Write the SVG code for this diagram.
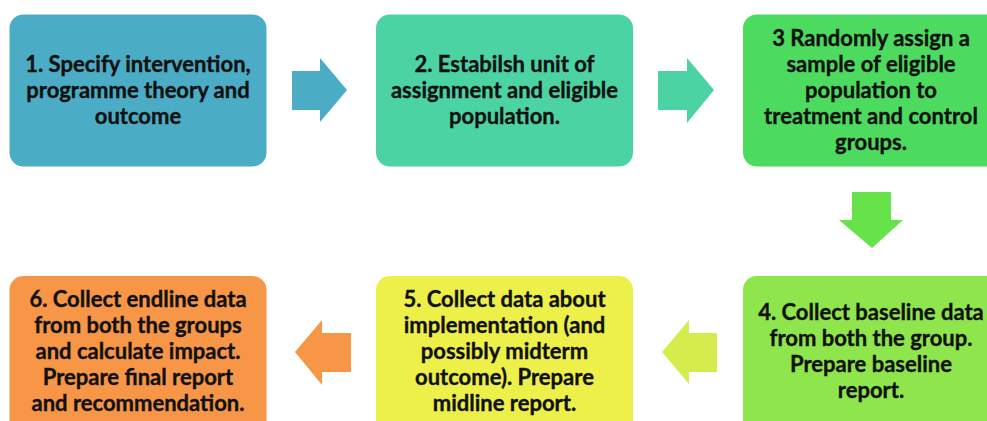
<svg xmlns="http://www.w3.org/2000/svg" width="987" height="421" viewBox="0 0 987 421">
  <style>
    .box { stroke: none; }
    .lbl { font-family: Lato, "Open Sans", "Liberation Sans", sans-serif; font-weight: bold; font-size: 22px; fill: #111; stroke: #111; stroke-width: 0.35; text-anchor: middle; }
  </style>
  <rect width="987" height="421" fill="#ffffff"/>

  <!-- step arrows between boxes -->
  <g id="connectors">
    <polygon points="292,71 320,71 320,58 347,90 320,122 320,110 292,110" fill="#4BACC6"/>
    <polygon points="658,71 687,71 687,58 714,90 687,123 687,110 658,110" fill="#4BD3A3"/>
    <polygon points="852,192 891,192 891,220 903,220 872,248 839,220 852,220" fill="#66E34A"/>
    <polygon points="717,333 689,333 689,320 662,352 689,384 689,372 717,372" fill="#D5EC4C"/>
    <polygon points="351,333 322,333 322,320 295,352 322,385 322,372 351,372" fill="#F79646"/>
  </g>

  <g id="step1">
    <rect class="box" x="9.5" y="14.5" width="257" height="152" rx="14" fill="#4BACC6"/>
    <text class="lbl" x="138" y="72">1. Specify intervention,</text>
    <text class="lbl" x="138" y="98">programme theory and</text>
    <text class="lbl" x="138" y="124">outcome</text>
  </g>

  <g id="step2">
    <rect class="box" x="376" y="14.5" width="257" height="152" rx="14" fill="#4BD3A3"/>
    <text class="lbl" x="504.5" y="72">2. Estabilsh unit of</text>
    <text class="lbl" x="504.5" y="98">assignment and eligible</text>
    <text class="lbl" x="504.5" y="124">population.</text>
  </g>

  <g id="step3">
    <rect class="box" x="743" y="14.5" width="257" height="152" rx="14" fill="#4CDB5E"/>
    <text class="lbl" x="871" y="46">3 Randomly assign a</text>
    <text class="lbl" x="871" y="72">sample of eligible</text>
    <text class="lbl" x="871" y="98">population to</text>
    <text class="lbl" x="871" y="124">treatment and control</text>
    <text class="lbl" x="871" y="150">groups.</text>
  </g>

  <g id="step4">
    <rect class="box" x="743" y="276" width="257" height="160" rx="14" fill="#8EE64C"/>
    <text class="lbl" x="871" y="320">4. Collect baseline data</text>
    <text class="lbl" x="871" y="346">from both the group.</text>
    <text class="lbl" x="871" y="372">Prepare baseline</text>
    <text class="lbl" x="871" y="398">report.</text>
  </g>

  <g id="step5">
    <rect class="box" x="376" y="276" width="257" height="160" rx="14" fill="#EEF04A"/>
    <text class="lbl" x="504.5" y="307">5. Collect data about</text>
    <text class="lbl" x="504.5" y="333">implementation (and</text>
    <text class="lbl" x="504.5" y="359">possibly midterm</text>
    <text class="lbl" x="504.5" y="385">outcome). Prepare</text>
    <text class="lbl" x="504.5" y="411">midline report.</text>
  </g>

  <g id="step6">
    <rect class="box" x="9.5" y="276" width="257" height="160" rx="14" fill="#F79646"/>
    <text class="lbl" x="138" y="307">6. Collect endline data</text>
    <text class="lbl" x="138" y="333">from both the groups</text>
    <text class="lbl" x="138" y="359">and calculate impact.</text>
    <text class="lbl" x="138" y="385">Prepare final report</text>
    <text class="lbl" x="138" y="411">and recommendation.</text>
  </g>
</svg>
